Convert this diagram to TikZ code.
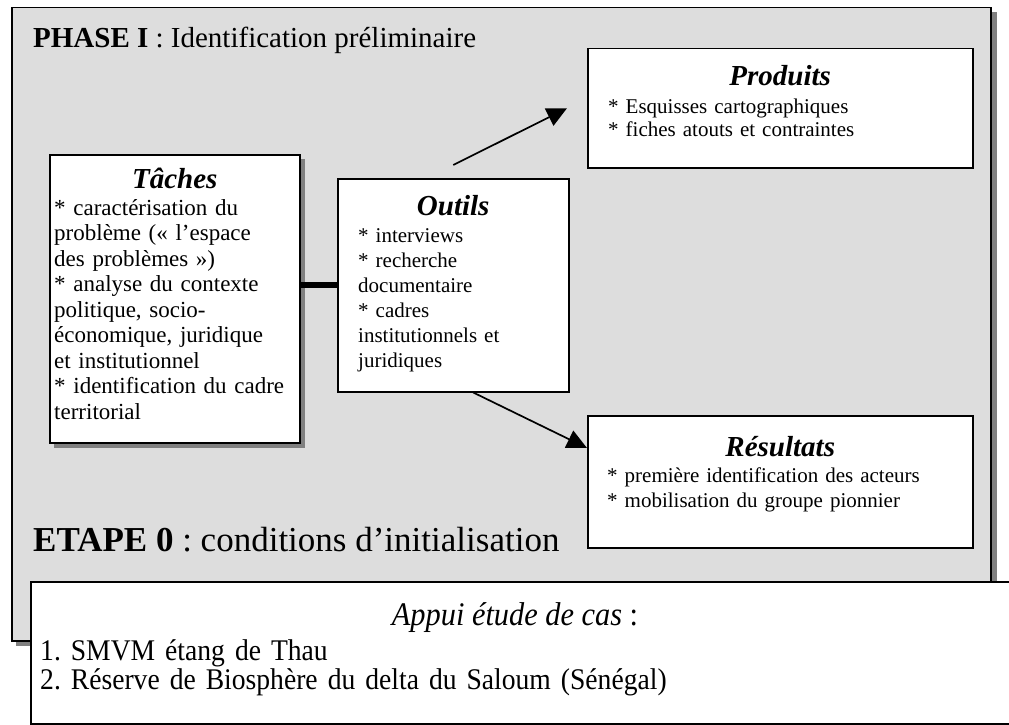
\documentclass[tikz,border=0pt]{standalone}
\usepackage{fontspec}
\setmainfont{Liberation Serif}
\newfontfamily\condserif[FakeStretch=0.92]{Liberation Serif}
\usetikzlibrary{arrows.meta,calc}
\frenchspacing

\definecolor{phasegray}{RGB}{221,221,221}
\definecolor{shadowgray}{RGB}{128,128,128}

\begin{document}
\begin{tikzpicture}[x=1pt,y=-1pt,
  frame/.style={draw=black,line width=1.5pt,fill=white,inner sep=0pt,anchor=north west},
  heading/.style={inner sep=0pt,anchor=base west},
  boxtitle/.style={inner sep=0pt,anchor=base,font=\fontsize{29}{33}\selectfont\bfseries\itshape},
  boxtext/.style={inner sep=0pt,anchor=base west,align=left,text width=#1},
  link/.style={line width=1.7pt,-{Triangle[length=20pt,width=19pt]}},
  casetext/.style={inner sep=0pt,anchor=base west,align=left,text width=900pt,
    font=\fontsize{30}{29}\selectfont\condserif}
]
\clip (0,0) rectangle (1009,725);
\fill[white] (0,0) rectangle (1009,725);

% phase panel with its drop shadow
\fill[shadowgray] (16,12) rectangle (997,646);
\node[frame,fill=phasegray,minimum width=979pt,minimum height=633pt] (phase) at (11,7) {};
\node[heading,font=\fontsize{29}{33}\selectfont] (phasetitle) at (33,48)
  {\textbf{PHASE I} : Identification préliminaire};
\node[heading,font=\fontsize{35}{40}\selectfont] (etape) at (33,551)
  {\textbf{ETAPE 0} : conditions d’initialisation};

% tasks box (shadowed)
\fill[shadowgray] (54,159) rectangle (305,448);
\node[frame,minimum width=250pt,minimum height=288pt] (taches) at (49,154) {};
\node[boxtitle] (tachestitle) at ($(taches.north)+(0,34)$) {Tâches};
\node[boxtext=244pt,font=\fontsize{23}{25.5}\selectfont] (tachestext) at ($(taches.north west)+(5,61)$)
  {{*} caractérisation du\\
   problème («~l’espace\\
   des problèmes~»)\\
   {*} analyse du contexte\\
   politique, socio-\\
   économique, juridique\\
   et institutionnel\\
   {*} identification du cadre\\
   territorial};

% tools box
\node[frame,minimum width=231pt,minimum height=213pt] (outils) at (337,178) {};
\node[boxtitle] (outilstitle) at ($(outils.north)+(0,37)$) {Outils};
\node[boxtext=205pt,font=\fontsize{21}{25}\selectfont] (outilstext) at ($(outils.north west)+(21,64)$)
  {{*} interviews\\
   {*} recherche\\
   documentaire\\
   {*} cadres\\
   institutionnels et\\
   juridiques};

% products box
\node[frame,minimum width=385pt,minimum height=119pt] (produits) at (587,48) {};
\node[boxtitle] (produitstitle) at ($(produits.north)+(0,37)$) {Produits};
\node[boxtext=350pt,font=\fontsize{21}{24}\selectfont] (produitstext) at ($(produits.north west)+(21,65)$)
  {{*} Esquisses cartographiques\\
   {*} fiches atouts et contraintes};

% results box
\node[frame,minimum width=385pt,minimum height=132pt] (resultats) at (587,415) {};
\node[boxtitle] (resultatstitle) at ($(resultats.north)+(0,41)$) {Résultats};
\node[boxtext=350pt,font=\fontsize{21}{25}\selectfont] (resultatstext) at ($(resultats.north west)+(20,67)$)
  {{*} première identification des acteurs\\
   {*} mobilisation du groupe pionnier};

% connectors
\draw[line width=6pt] (outils.west) -- (outils.west -| taches.east);
\draw[link] ([yshift=13pt]outils.north) -- ([xshift=-20pt]produits.west);
\draw[link] ([xshift=20pt]outils.south) -- ([yshift=-33pt]resultats.north west);

% case study box
\node[frame,minimum width=1010pt,minimum height=142pt] (cas) at (30,581) {};
\node[casetext,anchor=base,text width=,font=\fontsize{33}{36}\selectfont\condserif] (castitle) at (515,625)
  {\textit{Appui étude de cas} :};
\node[casetext] (caslist) at (40,660)
  {1. SMVM étang de Thau\\
   2. Réserve de Biosphère du delta du Saloum (Sénégal)};
\end{tikzpicture}
\end{document}
